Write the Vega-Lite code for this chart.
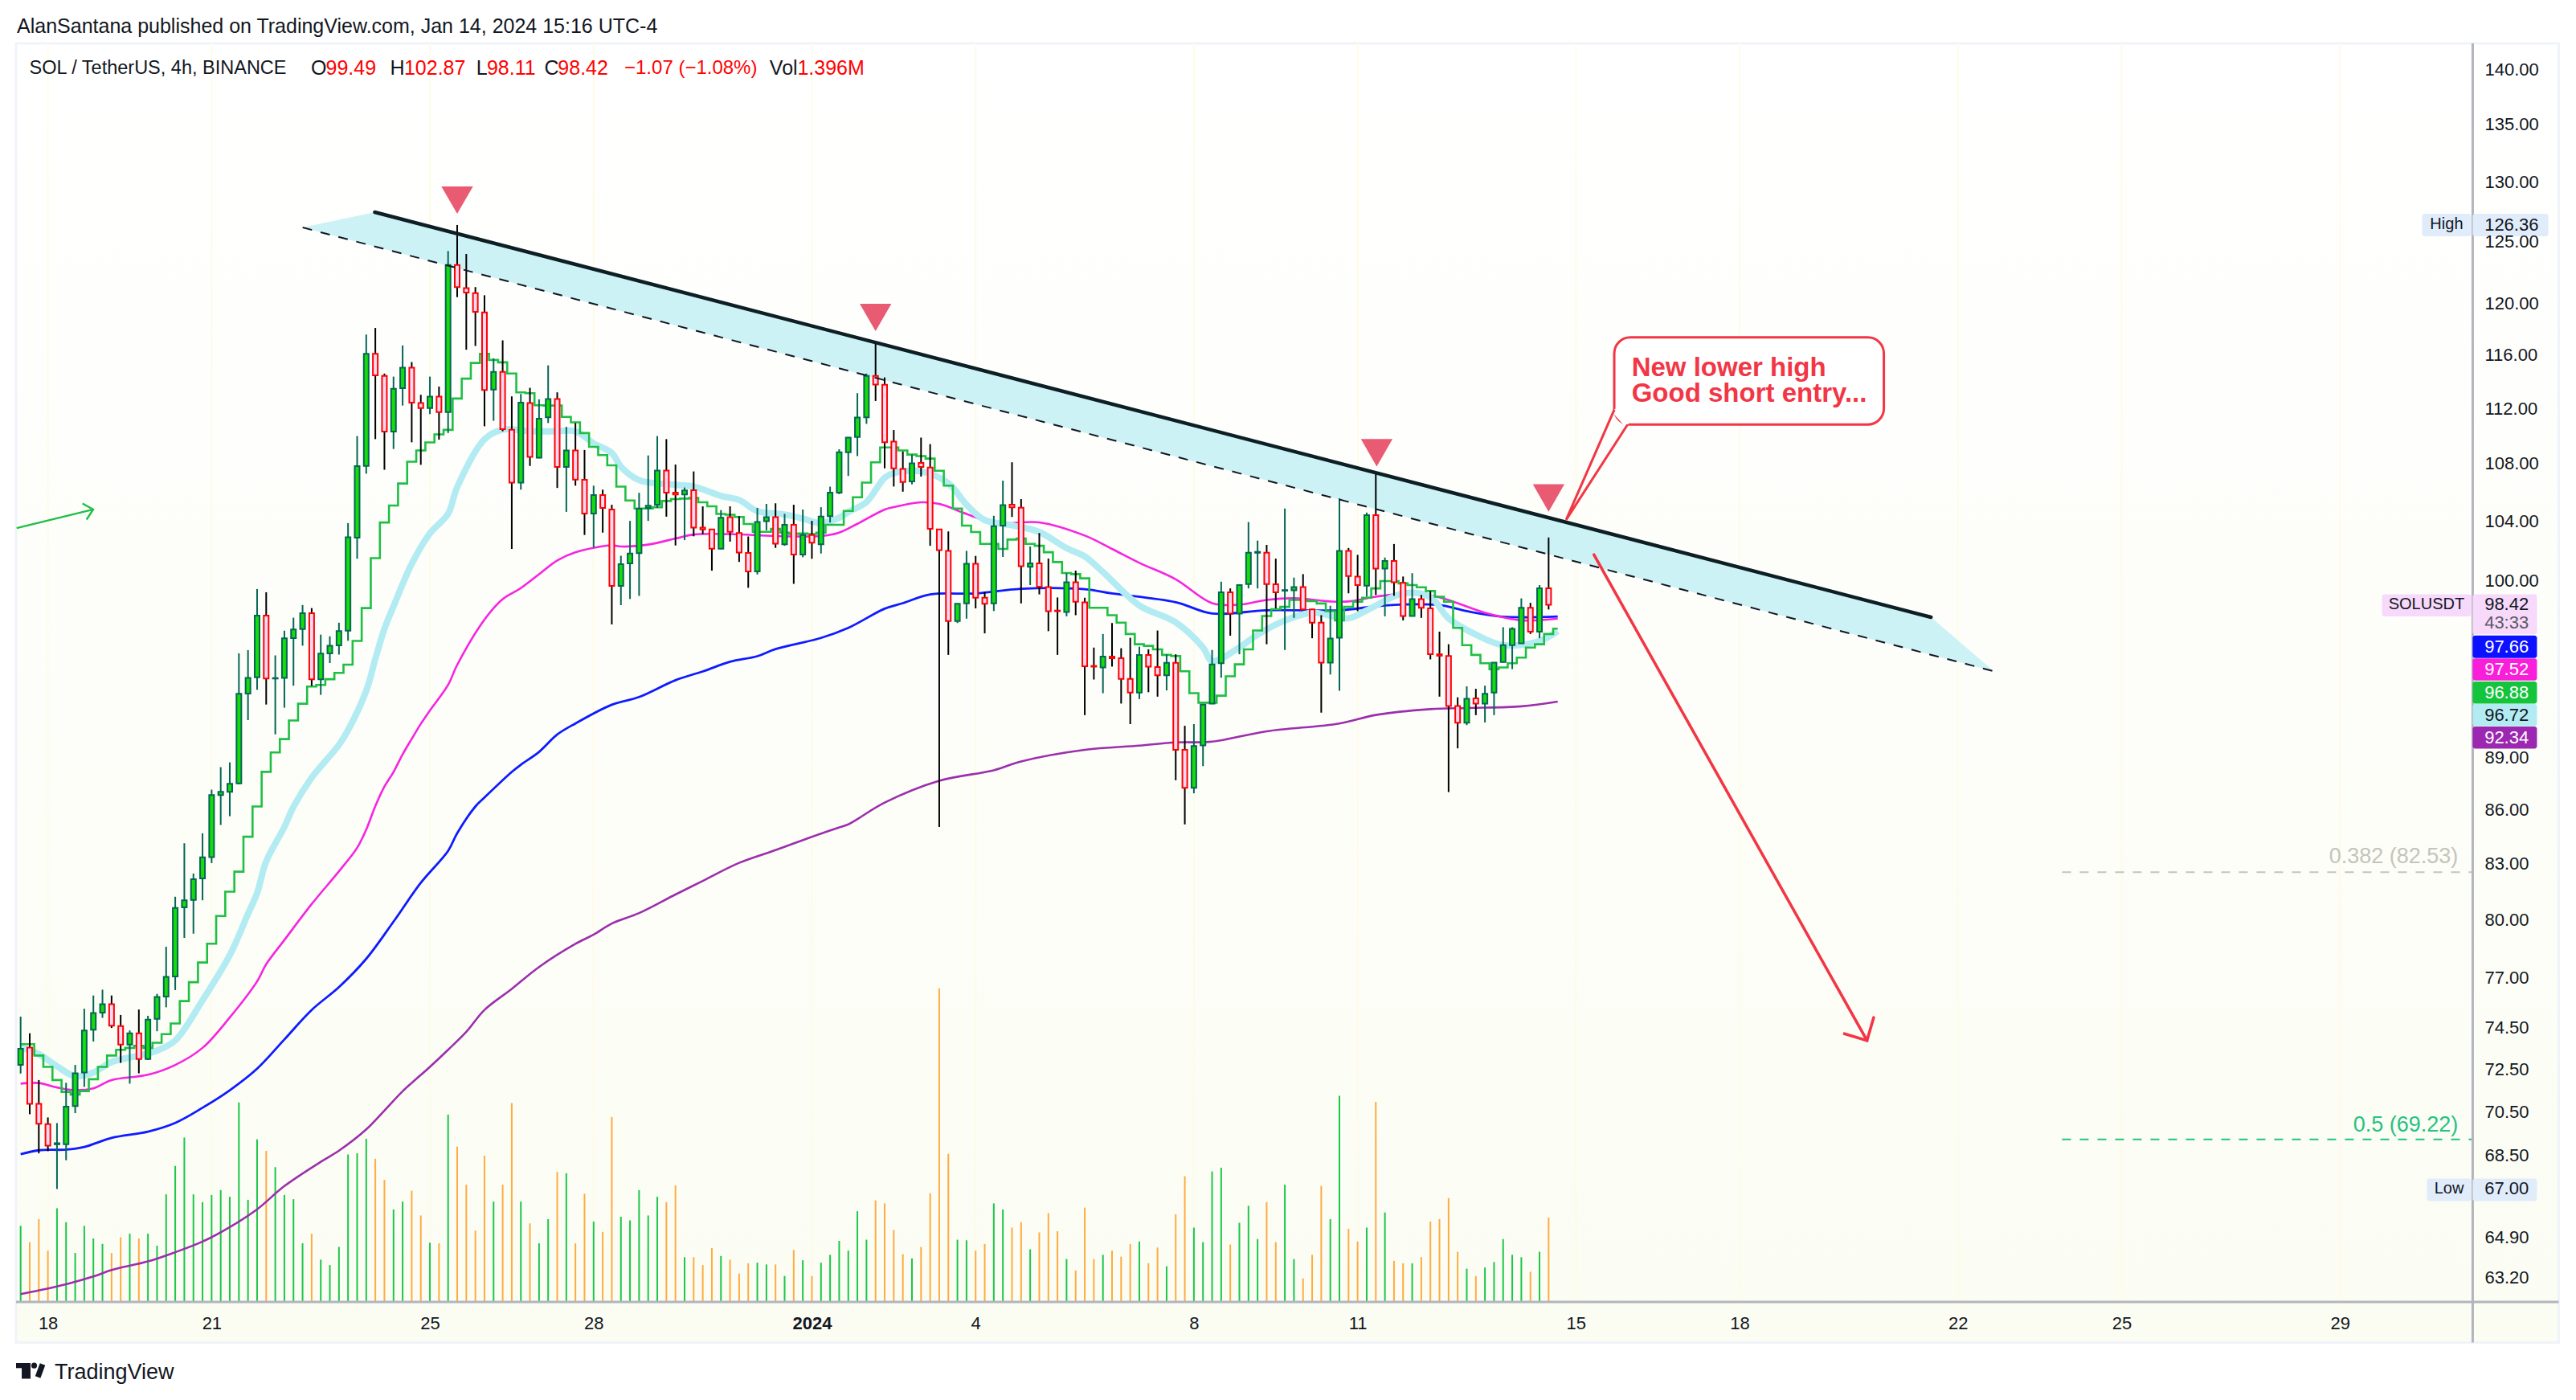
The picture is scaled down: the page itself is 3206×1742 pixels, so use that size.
{"$schema":"https://vega.github.io/schema/vega-lite/v6.json","width":3058,"height":1566,"autosize":"none","padding":{"left":20,"top":54,"right":128,"bottom":122},"background":"#ffffff","config":{"font":"Liberation Sans","view":{"stroke":null}},
"datasets":{
"candles":[
{"t":"2023-12-17T12:00Z","o":72.70,"h":75.05,"l":72.29,"c":73.48,"v":1.26},
{"t":"2023-12-17T16:00Z","o":73.53,"h":74.23,"l":70.38,"c":70.86,"v":0.99},
{"t":"2023-12-17T20:00Z","o":70.86,"h":71.98,"l":68.59,"c":69.94,"v":1.37},
{"t":"2023-12-18T00:00Z","o":69.92,"h":70.23,"l":68.69,"c":68.94,"v":0.85},
{"t":"2023-12-18T04:00Z","o":69.00,"h":69.97,"l":67.00,"c":69.05,"v":1.55},
{"t":"2023-12-18T08:00Z","o":69.00,"h":71.85,"l":68.28,"c":70.73,"v":1.32},
{"t":"2023-12-18T12:00Z","o":70.76,"h":72.70,"l":70.43,"c":72.30,"v":0.81},
{"t":"2023-12-18T16:00Z","o":72.34,"h":75.44,"l":71.66,"c":74.37,"v":1.26},
{"t":"2023-12-18T20:00Z","o":74.41,"h":76.10,"l":73.83,"c":75.23,"v":1.05},
{"t":"2023-12-19T00:00Z","o":75.25,"h":76.39,"l":74.99,"c":75.67,"v":0.96},
{"t":"2023-12-19T04:00Z","o":75.67,"h":76.10,"l":74.49,"c":74.60,"v":0.81},
{"t":"2023-12-19T08:00Z","o":74.58,"h":75.13,"l":72.80,"c":73.68,"v":1.07},
{"t":"2023-12-19T12:00Z","o":73.68,"h":74.37,"l":71.81,"c":74.23,"v":1.13},
{"t":"2023-12-19T16:00Z","o":74.23,"h":75.40,"l":72.30,"c":72.98,"v":1.05},
{"t":"2023-12-19T20:00Z","o":72.98,"h":75.09,"l":72.94,"c":74.90,"v":1.13},
{"t":"2023-12-20T00:00Z","o":74.94,"h":76.18,"l":74.33,"c":76.03,"v":0.93},
{"t":"2023-12-20T04:00Z","o":76.05,"h":78.58,"l":75.51,"c":77.04,"v":1.78},
{"t":"2023-12-20T08:00Z","o":77.06,"h":81.21,"l":76.37,"c":80.61,"v":2.25},
{"t":"2023-12-20T12:00Z","o":80.65,"h":84.12,"l":79.04,"c":81.02,"v":2.72},
{"t":"2023-12-20T16:00Z","o":81.04,"h":82.46,"l":79.26,"c":82.15,"v":1.78},
{"t":"2023-12-20T20:00Z","o":82.19,"h":84.67,"l":81.02,"c":83.34,"v":1.65},
{"t":"2023-12-21T00:00Z","o":83.36,"h":87.14,"l":83.03,"c":86.83,"v":1.77},
{"t":"2023-12-21T04:00Z","o":86.83,"h":88.44,"l":85.14,"c":87.01,"v":1.85},
{"t":"2023-12-21T08:00Z","o":87.01,"h":88.72,"l":85.63,"c":87.48,"v":1.74},
{"t":"2023-12-21T12:00Z","o":87.50,"h":95.32,"l":87.45,"c":92.81,"v":3.30},
{"t":"2023-12-21T16:00Z","o":92.83,"h":95.52,"l":91.22,"c":93.79,"v":1.69},
{"t":"2023-12-21T20:00Z","o":93.83,"h":99.44,"l":93.06,"c":97.71,"v":2.69},
{"t":"2023-12-22T00:00Z","o":97.71,"h":99.23,"l":92.16,"c":93.75,"v":2.50},
{"t":"2023-12-22T04:00Z","o":93.75,"h":95.19,"l":90.37,"c":93.78,"v":2.23},
{"t":"2023-12-22T08:00Z","o":93.79,"h":96.75,"l":91.97,"c":96.26,"v":1.77},
{"t":"2023-12-22T12:00Z","o":96.28,"h":97.58,"l":93.31,"c":96.83,"v":1.70},
{"t":"2023-12-22T16:00Z","o":96.85,"h":98.40,"l":95.80,"c":97.87,"v":0.97},
{"t":"2023-12-22T20:00Z","o":97.87,"h":98.20,"l":93.30,"c":93.70,"v":1.13},
{"t":"2023-12-23T00:00Z","o":93.70,"h":96.50,"l":92.75,"c":95.30,"v":0.70},
{"t":"2023-12-23T04:00Z","o":95.32,"h":96.39,"l":94.71,"c":95.80,"v":0.61},
{"t":"2023-12-23T08:00Z","o":95.82,"h":97.26,"l":95.24,"c":96.73,"v":0.91},
{"t":"2023-12-23T12:00Z","o":96.75,"h":103.85,"l":96.11,"c":102.89,"v":2.44},
{"t":"2023-12-23T16:00Z","o":102.86,"h":109.97,"l":101.44,"c":107.81,"v":2.46},
{"t":"2023-12-23T20:00Z","o":107.83,"h":117.57,"l":107.28,"c":116.08,"v":2.70},
{"t":"2023-12-24T00:00Z","o":116.08,"h":118.08,"l":109.75,"c":114.45,"v":2.37},
{"t":"2023-12-24T04:00Z","o":114.41,"h":114.59,"l":107.56,"c":110.30,"v":2.02},
{"t":"2023-12-24T08:00Z","o":110.30,"h":114.36,"l":109.04,"c":113.45,"v":1.53},
{"t":"2023-12-24T12:00Z","o":113.49,"h":116.73,"l":112.20,"c":115.04,"v":1.66},
{"t":"2023-12-24T16:00Z","o":115.04,"h":115.46,"l":109.52,"c":112.42,"v":1.84},
{"t":"2023-12-24T20:00Z","o":112.38,"h":113.00,"l":107.91,"c":112.01,"v":1.43},
{"t":"2023-12-25T00:00Z","o":112.01,"h":114.36,"l":111.57,"c":112.86,"v":0.98},
{"t":"2023-12-25T04:00Z","o":112.86,"h":113.61,"l":109.71,"c":111.72,"v":0.97},
{"t":"2023-12-25T08:00Z","o":111.72,"h":124.21,"l":110.19,"c":123.07,"v":3.10},
{"t":"2023-12-25T12:00Z","o":123.07,"h":126.36,"l":120.50,"c":121.30,"v":2.57},
{"t":"2023-12-25T16:00Z","o":121.22,"h":123.97,"l":116.40,"c":120.87,"v":1.94},
{"t":"2023-12-25T20:00Z","o":120.81,"h":121.30,"l":116.69,"c":119.34,"v":1.18},
{"t":"2023-12-26T00:00Z","o":119.29,"h":120.65,"l":110.68,"c":113.36,"v":2.42},
{"t":"2023-12-26T04:00Z","o":113.38,"h":115.74,"l":111.08,"c":114.71,"v":1.66},
{"t":"2023-12-26T08:00Z","o":114.71,"h":117.12,"l":110.32,"c":110.47,"v":1.94},
{"t":"2023-12-26T12:00Z","o":110.43,"h":112.88,"l":102.10,"c":106.65,"v":3.29},
{"t":"2023-12-26T16:00Z","o":106.65,"h":113.06,"l":106.16,"c":112.42,"v":1.66},
{"t":"2023-12-26T20:00Z","o":112.38,"h":113.52,"l":107.83,"c":108.48,"v":1.30},
{"t":"2023-12-27T00:00Z","o":108.42,"h":112.66,"l":108.37,"c":111.23,"v":0.97},
{"t":"2023-12-27T04:00Z","o":111.34,"h":115.21,"l":110.92,"c":112.68,"v":1.37},
{"t":"2023-12-27T08:00Z","o":112.68,"h":113.18,"l":106.28,"c":107.76,"v":2.15},
{"t":"2023-12-27T12:00Z","o":107.76,"h":110.64,"l":104.62,"c":108.93,"v":2.13},
{"t":"2023-12-27T16:00Z","o":108.93,"h":110.92,"l":106.44,"c":106.87,"v":0.97},
{"t":"2023-12-27T20:00Z","o":106.85,"h":108.97,"l":103.04,"c":104.51,"v":1.79},
{"t":"2023-12-28T00:00Z","o":104.51,"h":106.44,"l":102.20,"c":105.78,"v":1.33},
{"t":"2023-12-28T04:00Z","o":105.78,"h":106.16,"l":103.20,"c":104.89,"v":1.16},
{"t":"2023-12-28T08:00Z","o":104.78,"h":105.11,"l":97.15,"c":99.64,"v":3.06},
{"t":"2023-12-28T12:00Z","o":99.64,"h":101.64,"l":98.39,"c":101.08,"v":1.41},
{"t":"2023-12-28T16:00Z","o":101.13,"h":104.00,"l":98.79,"c":101.79,"v":1.35},
{"t":"2023-12-28T20:00Z","o":101.81,"h":105.94,"l":98.99,"c":104.83,"v":1.85},
{"t":"2023-12-29T00:00Z","o":104.89,"h":108.58,"l":104.00,"c":105.05,"v":1.43},
{"t":"2023-12-29T04:00Z","o":105.11,"h":109.97,"l":104.89,"c":107.51,"v":1.74},
{"t":"2023-12-29T08:00Z","o":107.51,"h":109.75,"l":104.29,"c":105.95,"v":1.65},
{"t":"2023-12-29T12:00Z","o":105.95,"h":107.93,"l":102.33,"c":105.83,"v":1.93},
{"t":"2023-12-29T16:00Z","o":105.83,"h":106.31,"l":102.69,"c":106.11,"v":0.74},
{"t":"2023-12-29T20:00Z","o":106.12,"h":107.44,"l":102.95,"c":103.54,"v":0.74},
{"t":"2023-12-30T00:00Z","o":103.54,"h":105.00,"l":103.10,"c":103.42,"v":0.61},
{"t":"2023-12-30T04:00Z","o":103.42,"h":103.46,"l":100.65,"c":102.12,"v":0.89},
{"t":"2023-12-30T08:00Z","o":102.12,"h":104.74,"l":102.10,"c":104.21,"v":0.76},
{"t":"2023-12-30T12:00Z","o":104.26,"h":105.00,"l":102.59,"c":103.25,"v":0.70},
{"t":"2023-12-30T16:00Z","o":103.17,"h":104.32,"l":101.23,"c":101.86,"v":0.47},
{"t":"2023-12-30T20:00Z","o":101.83,"h":102.94,"l":99.52,"c":100.60,"v":0.64},
{"t":"2023-12-31T00:00Z","o":100.60,"h":104.89,"l":100.40,"c":103.93,"v":0.65},
{"t":"2023-12-31T04:00Z","o":103.98,"h":105.17,"l":103.35,"c":104.26,"v":0.62},
{"t":"2023-12-31T08:00Z","o":104.26,"h":105.21,"l":102.17,"c":102.45,"v":0.62},
{"t":"2023-12-31T12:00Z","o":102.41,"h":104.48,"l":102.31,"c":103.73,"v":0.43},
{"t":"2023-12-31T16:00Z","o":103.73,"h":105.11,"l":99.78,"c":101.72,"v":0.86},
{"t":"2023-12-31T20:00Z","o":101.72,"h":104.78,"l":101.54,"c":103.04,"v":0.69},
{"t":"2024-01-01T00:00Z","o":103.04,"h":104.00,"l":101.44,"c":102.52,"v":0.43},
{"t":"2024-01-01T04:00Z","o":102.41,"h":104.94,"l":101.79,"c":104.30,"v":0.65},
{"t":"2024-01-01T08:00Z","o":104.32,"h":106.37,"l":103.89,"c":105.95,"v":0.78},
{"t":"2024-01-01T12:00Z","o":105.95,"h":109.02,"l":105.85,"c":108.80,"v":1.01},
{"t":"2024-01-01T16:00Z","o":108.80,"h":109.90,"l":107.12,"c":109.86,"v":0.85},
{"t":"2024-01-01T20:00Z","o":109.90,"h":113.12,"l":108.53,"c":111.32,"v":1.50},
{"t":"2024-01-02T00:00Z","o":111.34,"h":114.59,"l":110.86,"c":114.41,"v":1.03},
{"t":"2024-01-02T04:00Z","o":114.41,"h":116.86,"l":112.54,"c":113.77,"v":1.68},
{"t":"2024-01-02T08:00Z","o":113.75,"h":114.30,"l":107.66,"c":109.52,"v":1.63},
{"t":"2024-01-02T12:00Z","o":109.57,"h":110.41,"l":106.38,"c":107.66,"v":1.19},
{"t":"2024-01-02T16:00Z","o":107.61,"h":108.86,"l":106.02,"c":106.70,"v":0.79},
{"t":"2024-01-02T20:00Z","o":106.74,"h":108.64,"l":106.53,"c":108.02,"v":0.72},
{"t":"2024-01-03T00:00Z","o":108.04,"h":109.86,"l":107.08,"c":107.76,"v":0.91},
{"t":"2024-01-03T04:00Z","o":107.72,"h":109.39,"l":102.31,"c":103.46,"v":1.80},
{"t":"2024-01-03T08:00Z","o":103.42,"h":103.45,"l":85.02,"c":102.02,"v":5.19},
{"t":"2024-01-03T12:00Z","o":101.97,"h":103.28,"l":95.22,"c":97.37,"v":2.45},
{"t":"2024-01-03T16:00Z","o":97.37,"h":98.50,"l":97.24,"c":98.48,"v":1.03},
{"t":"2024-01-03T20:00Z","o":98.50,"h":101.97,"l":97.52,"c":101.10,"v":1.02},
{"t":"2024-01-04T00:00Z","o":101.10,"h":101.63,"l":98.18,"c":98.87,"v":0.85},
{"t":"2024-01-04T04:00Z","o":98.87,"h":99.26,"l":96.58,"c":98.48,"v":0.96},
{"t":"2024-01-04T08:00Z","o":98.50,"h":104.35,"l":98.01,"c":103.63,"v":1.63},
{"t":"2024-01-04T12:00Z","o":103.68,"h":106.79,"l":101.56,"c":105.09,"v":1.53},
{"t":"2024-01-04T16:00Z","o":105.11,"h":108.09,"l":104.27,"c":104.93,"v":1.23},
{"t":"2024-01-04T20:00Z","o":104.91,"h":105.50,"l":98.50,"c":100.95,"v":1.32},
{"t":"2024-01-05T00:00Z","o":100.90,"h":102.26,"l":99.70,"c":101.13,"v":0.87},
{"t":"2024-01-05T04:00Z","o":101.13,"h":103.17,"l":99.09,"c":99.59,"v":1.15},
{"t":"2024-01-05T08:00Z","o":99.57,"h":101.45,"l":96.72,"c":98.00,"v":1.47},
{"t":"2024-01-05T12:00Z","o":98.04,"h":98.89,"l":95.22,"c":98.00,"v":1.17},
{"t":"2024-01-05T16:00Z","o":97.95,"h":100.48,"l":97.67,"c":99.88,"v":0.71},
{"t":"2024-01-05T20:00Z","o":99.88,"h":100.65,"l":97.74,"c":98.61,"v":0.52},
{"t":"2024-01-06T00:00Z","o":98.57,"h":98.87,"l":91.52,"c":94.51,"v":1.56},
{"t":"2024-01-06T04:00Z","o":94.53,"h":95.68,"l":93.69,"c":94.49,"v":0.71},
{"t":"2024-01-06T08:00Z","o":94.44,"h":96.54,"l":92.85,"c":95.11,"v":0.78},
{"t":"2024-01-06T12:00Z","o":95.11,"h":97.24,"l":94.49,"c":95.01,"v":0.85},
{"t":"2024-01-06T16:00Z","o":95.01,"h":95.64,"l":92.22,"c":93.73,"v":0.75},
{"t":"2024-01-06T20:00Z","o":93.73,"h":96.30,"l":90.98,"c":92.89,"v":0.96},
{"t":"2024-01-07T00:00Z","o":92.89,"h":95.74,"l":92.49,"c":95.22,"v":1.00},
{"t":"2024-01-07T04:00Z","o":95.22,"h":95.57,"l":92.91,"c":94.49,"v":0.64},
{"t":"2024-01-07T08:00Z","o":94.46,"h":96.76,"l":92.64,"c":93.95,"v":0.90},
{"t":"2024-01-07T12:00Z","o":93.95,"h":95.26,"l":93.02,"c":94.72,"v":0.59},
{"t":"2024-01-07T16:00Z","o":94.72,"h":95.26,"l":87.68,"c":89.45,"v":1.45},
{"t":"2024-01-07T20:00Z","o":89.45,"h":90.88,"l":85.17,"c":87.25,"v":2.08},
{"t":"2024-01-08T00:00Z","o":87.25,"h":90.98,"l":86.93,"c":89.68,"v":1.23},
{"t":"2024-01-08T04:00Z","o":89.72,"h":92.19,"l":88.50,"c":92.15,"v":0.99},
{"t":"2024-01-08T08:00Z","o":92.22,"h":95.53,"l":92.18,"c":94.62,"v":2.16},
{"t":"2024-01-08T12:00Z","o":94.70,"h":99.92,"l":93.80,"c":99.22,"v":2.22},
{"t":"2024-01-08T16:00Z","o":99.22,"h":99.48,"l":96.43,"c":97.85,"v":0.95},
{"t":"2024-01-08T20:00Z","o":97.85,"h":99.72,"l":95.26,"c":99.70,"v":1.31},
{"t":"2024-01-09T00:00Z","o":99.77,"h":103.92,"l":99.48,"c":101.84,"v":1.59},
{"t":"2024-01-09T04:00Z","o":101.84,"h":102.66,"l":99.48,"c":101.90,"v":1.04},
{"t":"2024-01-09T08:00Z","o":101.84,"h":102.37,"l":95.89,"c":99.77,"v":1.65},
{"t":"2024-01-09T12:00Z","o":99.75,"h":101.45,"l":98.18,"c":99.22,"v":0.99},
{"t":"2024-01-09T16:00Z","o":99.33,"h":104.85,"l":95.53,"c":99.37,"v":1.94},
{"t":"2024-01-09T20:00Z","o":99.35,"h":100.19,"l":97.57,"c":99.57,"v":0.71},
{"t":"2024-01-10T00:00Z","o":99.57,"h":100.42,"l":98.07,"c":98.11,"v":0.39},
{"t":"2024-01-10T04:00Z","o":98.11,"h":98.15,"l":96.27,"c":97.26,"v":0.78},
{"t":"2024-01-10T08:00Z","o":97.26,"h":97.74,"l":91.67,"c":94.74,"v":1.92},
{"t":"2024-01-10T12:00Z","o":94.74,"h":98.35,"l":94.00,"c":96.25,"v":1.37},
{"t":"2024-01-10T16:00Z","o":96.30,"h":105.56,"l":93.00,"c":101.97,"v":3.41},
{"t":"2024-01-10T20:00Z","o":101.97,"h":102.16,"l":99.16,"c":100.30,"v":1.21},
{"t":"2024-01-11T00:00Z","o":100.26,"h":101.70,"l":98.00,"c":99.70,"v":1.00},
{"t":"2024-01-11T04:00Z","o":99.66,"h":104.57,"l":98.94,"c":104.39,"v":1.23},
{"t":"2024-01-11T08:00Z","o":104.39,"h":107.31,"l":99.05,"c":100.78,"v":3.31},
{"t":"2024-01-11T12:00Z","o":100.78,"h":101.52,"l":97.67,"c":101.29,"v":1.48},
{"t":"2024-01-11T16:00Z","o":101.29,"h":102.43,"l":99.00,"c":99.88,"v":0.68},
{"t":"2024-01-11T20:00Z","o":99.85,"h":100.26,"l":97.41,"c":97.69,"v":0.64},
{"t":"2024-01-12T00:00Z","o":97.69,"h":100.48,"l":97.67,"c":98.78,"v":0.64},
{"t":"2024-01-12T04:00Z","o":98.78,"h":99.05,"l":97.57,"c":98.22,"v":0.74},
{"t":"2024-01-12T08:00Z","o":98.18,"h":99.31,"l":94.94,"c":95.26,"v":1.33},
{"t":"2024-01-12T12:00Z","o":95.26,"h":96.69,"l":92.64,"c":95.17,"v":1.37},
{"t":"2024-01-12T16:00Z","o":95.15,"h":95.89,"l":87.00,"c":92.07,"v":1.72},
{"t":"2024-01-12T20:00Z","o":92.07,"h":92.60,"l":89.54,"c":91.06,"v":0.83},
{"t":"2024-01-13T00:00Z","o":91.06,"h":93.27,"l":90.92,"c":92.51,"v":0.55},
{"t":"2024-01-13T04:00Z","o":92.53,"h":93.12,"l":91.52,"c":92.22,"v":0.43},
{"t":"2024-01-13T08:00Z","o":92.22,"h":93.31,"l":91.08,"c":92.81,"v":0.57},
{"t":"2024-01-13T12:00Z","o":92.89,"h":94.75,"l":91.52,"c":94.74,"v":0.66},
{"t":"2024-01-13T16:00Z","o":94.78,"h":96.97,"l":94.74,"c":95.83,"v":1.04},
{"t":"2024-01-13T20:00Z","o":95.83,"h":96.97,"l":94.33,"c":96.87,"v":0.78},
{"t":"2024-01-14T00:00Z","o":95.95,"h":98.83,"l":95.95,"c":98.22,"v":0.74},
{"t":"2024-01-14T04:00Z","o":98.22,"h":98.54,"l":96.54,"c":96.69,"v":0.50},
{"t":"2024-01-14T08:00Z","o":96.69,"h":99.70,"l":96.27,"c":99.49,"v":0.83},
{"t":"2024-01-14T12:00Z","o":99.49,"h":102.87,"l":98.11,"c":98.42,"v":1.396}
],
"ema_step":[
{"t":"2023-12-17T12:00Z","p":73.7},{"t":"2023-12-17T16:00Z","p":73.7},{"t":"2023-12-17T20:00Z","p":73.15},{"t":"2023-12-18T00:00Z","p":72.61},{"t":"2023-12-18T04:00Z","p":71.98},{"t":"2023-12-18T08:00Z","p":71.42},{"t":"2023-12-18T12:00Z","p":71.3},{"t":"2023-12-18T16:00Z","p":71.46},{"t":"2023-12-18T20:00Z","p":72.02},{"t":"2023-12-19T00:00Z","p":72.61},{"t":"2023-12-19T04:00Z","p":73.15},{"t":"2023-12-19T08:00Z","p":73.43},{"t":"2023-12-19T12:00Z","p":73.52},{"t":"2023-12-19T16:00Z","p":73.62},{"t":"2023-12-19T20:00Z","p":73.52},{"t":"2023-12-20T00:00Z","p":73.77},{"t":"2023-12-20T04:00Z","p":74.19},{"t":"2023-12-20T08:00Z","p":74.71},{"t":"2023-12-20T12:00Z","p":75.82},{"t":"2023-12-20T16:00Z","p":76.77},{"t":"2023-12-20T20:00Z","p":77.77},{"t":"2023-12-21T00:00Z","p":78.74},{"t":"2023-12-21T04:00Z","p":80.19},{"t":"2023-12-21T08:00Z","p":81.48},{"t":"2023-12-21T12:00Z","p":82.56},{"t":"2023-12-21T16:00Z","p":84.48},{"t":"2023-12-21T20:00Z","p":86.18},{"t":"2023-12-22T00:00Z","p":88.17},{"t":"2023-12-22T04:00Z","p":89.3},{"t":"2023-12-22T08:00Z","p":90.09},{"t":"2023-12-22T12:00Z","p":91.2},{"t":"2023-12-22T16:00Z","p":92.21},{"t":"2023-12-22T20:00Z","p":93.26},{"t":"2023-12-23T00:00Z","p":93.36},{"t":"2023-12-23T04:00Z","p":93.71},{"t":"2023-12-23T08:00Z","p":94.1},{"t":"2023-12-23T12:00Z","p":94.61},{"t":"2023-12-23T16:00Z","p":96.1},{"t":"2023-12-23T20:00Z","p":98.2},{"t":"2023-12-24T00:00Z","p":101.48},{"t":"2023-12-24T04:00Z","p":103.89},{"t":"2023-12-24T08:00Z","p":105.06},{"t":"2023-12-24T12:00Z","p":106.59},{"t":"2023-12-24T16:00Z","p":108.13},{"t":"2023-12-24T20:00Z","p":108.93},{"t":"2023-12-25T00:00Z","p":109.51},{"t":"2023-12-25T04:00Z","p":110.09},{"t":"2023-12-25T08:00Z","p":110.42},{"t":"2023-12-25T12:00Z","p":112.72},{"t":"2023-12-25T16:00Z","p":114.21},{"t":"2023-12-25T20:00Z","p":115.39},{"t":"2023-12-26T00:00Z","p":116.08},{"t":"2023-12-26T04:00Z","p":115.62},{"t":"2023-12-26T08:00Z","p":115.44},{"t":"2023-12-26T12:00Z","p":114.59},{"t":"2023-12-26T16:00Z","p":113.18},{"t":"2023-12-26T20:00Z","p":113.12},{"t":"2023-12-27T00:00Z","p":112.22},{"t":"2023-12-27T04:00Z","p":112.2},{"t":"2023-12-27T08:00Z","p":112.2},{"t":"2023-12-27T12:00Z","p":111.37},{"t":"2023-12-27T16:00Z","p":110.97},{"t":"2023-12-27T20:00Z","p":110.19},{"t":"2023-12-28T00:00Z","p":109.19},{"t":"2023-12-28T04:00Z","p":108.6},{"t":"2023-12-28T08:00Z","p":107.87},{"t":"2023-12-28T12:00Z","p":106.37},{"t":"2023-12-28T16:00Z","p":105.41},{"t":"2023-12-28T20:00Z","p":104.85},{"t":"2023-12-29T00:00Z","p":104.85},{"t":"2023-12-29T04:00Z","p":104.94},{"t":"2023-12-29T08:00Z","p":105.37},{"t":"2023-12-29T12:00Z","p":105.5},{"t":"2023-12-29T16:00Z","p":105.54},{"t":"2023-12-29T20:00Z","p":105.58},{"t":"2023-12-30T00:00Z","p":105.28},{"t":"2023-12-30T04:00Z","p":105.0},{"t":"2023-12-30T08:00Z","p":104.48},{"t":"2023-12-30T12:00Z","p":104.42},{"t":"2023-12-30T16:00Z","p":104.27},{"t":"2023-12-30T20:00Z","p":103.79},{"t":"2023-12-31T00:00Z","p":103.25},{"t":"2023-12-31T04:00Z","p":103.25},{"t":"2023-12-31T08:00Z","p":103.45},{"t":"2023-12-31T12:00Z","p":103.2},{"t":"2023-12-31T16:00Z","p":103.1},{"t":"2023-12-31T20:00Z","p":103.14},{"t":"2024-01-01T00:00Z","p":103.1},{"t":"2024-01-01T04:00Z","p":103.2},{"t":"2024-01-01T08:00Z","p":103.73},{"t":"2024-01-01T12:00Z","p":103.73},{"t":"2024-01-01T16:00Z","p":104.68},{"t":"2024-01-01T20:00Z","p":105.63},{"t":"2024-01-02T00:00Z","p":106.65},{"t":"2024-01-02T04:00Z","p":108.09},{"t":"2024-01-02T08:00Z","p":109.15},{"t":"2024-01-02T12:00Z","p":109.15},{"t":"2024-01-02T16:00Z","p":108.93},{"t":"2024-01-02T20:00Z","p":108.64},{"t":"2024-01-03T00:00Z","p":108.53},{"t":"2024-01-03T04:00Z","p":108.35},{"t":"2024-01-03T08:00Z","p":107.49},{"t":"2024-01-03T12:00Z","p":106.44},{"t":"2024-01-03T16:00Z","p":104.85},{"t":"2024-01-03T20:00Z","p":103.68},{"t":"2024-01-04T00:00Z","p":103.24},{"t":"2024-01-04T04:00Z","p":102.44},{"t":"2024-01-04T08:00Z","p":102.44},{"t":"2024-01-04T12:00Z","p":102.1},{"t":"2024-01-04T16:00Z","p":102.73},{"t":"2024-01-04T20:00Z","p":102.8},{"t":"2024-01-05T00:00Z","p":102.44},{"t":"2024-01-05T04:00Z","p":102.31},{"t":"2024-01-05T08:00Z","p":101.88},{"t":"2024-01-05T12:00Z","p":101.22},{"t":"2024-01-05T16:00Z","p":100.49},{"t":"2024-01-05T20:00Z","p":100.42},{"t":"2024-01-06T00:00Z","p":100.14},{"t":"2024-01-06T04:00Z","p":98.22},{"t":"2024-01-06T08:00Z","p":98.22},{"t":"2024-01-06T12:00Z","p":97.74},{"t":"2024-01-06T16:00Z","p":97.26},{"t":"2024-01-06T20:00Z","p":96.54},{"t":"2024-01-07T00:00Z","p":95.89},{"t":"2024-01-07T04:00Z","p":95.79},{"t":"2024-01-07T08:00Z","p":95.57},{"t":"2024-01-07T12:00Z","p":95.22},{"t":"2024-01-07T16:00Z","p":95.15},{"t":"2024-01-07T20:00Z","p":94.2},{"t":"2024-01-08T00:00Z","p":92.85},{"t":"2024-01-08T04:00Z","p":92.27},{"t":"2024-01-08T08:00Z","p":92.27},{"t":"2024-01-08T12:00Z","p":92.7},{"t":"2024-01-08T16:00Z","p":93.89},{"t":"2024-01-08T20:00Z","p":94.63},{"t":"2024-01-09T00:00Z","p":95.57},{"t":"2024-01-09T04:00Z","p":96.76},{"t":"2024-01-09T08:00Z","p":97.69},{"t":"2024-01-09T12:00Z","p":98.13},{"t":"2024-01-09T16:00Z","p":98.28},{"t":"2024-01-09T20:00Z","p":98.73},{"t":"2024-01-10T00:00Z","p":98.73},{"t":"2024-01-10T04:00Z","p":98.65},{"t":"2024-01-10T08:00Z","p":98.5},{"t":"2024-01-10T12:00Z","p":98.0},{"t":"2024-01-10T16:00Z","p":97.41},{"t":"2024-01-10T20:00Z","p":98.28},{"t":"2024-01-11T00:00Z","p":98.61},{"t":"2024-01-11T04:00Z","p":98.87},{"t":"2024-01-11T08:00Z","p":99.48},{"t":"2024-01-11T12:00Z","p":99.96},{"t":"2024-01-11T16:00Z","p":99.96},{"t":"2024-01-11T20:00Z","p":99.81},{"t":"2024-01-12T00:00Z","p":99.7},{"t":"2024-01-12T04:00Z","p":99.55},{"t":"2024-01-12T08:00Z","p":99.31},{"t":"2024-01-12T12:00Z","p":98.94},{"t":"2024-01-12T16:00Z","p":98.61},{"t":"2024-01-12T20:00Z","p":96.93},{"t":"2024-01-13T00:00Z","p":95.83},{"t":"2024-01-13T04:00Z","p":95.22},{"t":"2024-01-13T08:00Z","p":94.7},{"t":"2024-01-13T12:00Z","p":94.33},{"t":"2024-01-13T16:00Z","p":94.44},{"t":"2024-01-13T20:00Z","p":94.7},{"t":"2024-01-14T00:00Z","p":95.05},{"t":"2024-01-14T04:00Z","p":95.68},{"t":"2024-01-14T08:00Z","p":95.89},{"t":"2024-01-14T12:00Z","p":96.54},{"t":"2024-01-14T16:00Z","p":96.88}
],
"ema_cyan":[
{"t":"2023-12-17T12:00Z","p":73.55},{"t":"2023-12-17T20:00Z","p":73.22},{"t":"2023-12-18T04:00Z","p":72.64},{"t":"2023-12-18T12:00Z","p":72.16},{"t":"2023-12-18T20:00Z","p":72.34},{"t":"2023-12-19T04:00Z","p":72.84},{"t":"2023-12-19T16:00Z","p":73.15},{"t":"2023-12-20T00:00Z","p":73.39},{"t":"2023-12-20T08:00Z","p":73.88},{"t":"2023-12-20T20:00Z","p":75.86},{"t":"2023-12-21T08:00Z","p":78.15},{"t":"2023-12-21T16:00Z","p":80.3},{"t":"2023-12-21T20:00Z","p":81.4},{"t":"2023-12-22T00:00Z","p":83.12},{"t":"2023-12-22T08:00Z","p":85.02},{"t":"2023-12-22T12:00Z","p":86.16},{"t":"2023-12-22T20:00Z","p":87.83},{"t":"2023-12-23T08:00Z","p":89.75},{"t":"2023-12-23T12:00Z","p":90.62},{"t":"2023-12-23T20:00Z","p":93.0},{"t":"2023-12-24T00:00Z","p":94.97},{"t":"2023-12-24T04:00Z","p":96.87},{"t":"2023-12-24T08:00Z","p":98.32},{"t":"2023-12-24T16:00Z","p":101.1},{"t":"2023-12-25T00:00Z","p":103.15},{"t":"2023-12-25T08:00Z","p":104.49},{"t":"2023-12-25T12:00Z","p":106.34},{"t":"2023-12-26T00:00Z","p":109.74},{"t":"2023-12-26T08:00Z","p":110.44},{"t":"2023-12-26T20:00Z","p":110.32},{"t":"2023-12-27T08:00Z","p":110.32},{"t":"2023-12-27T16:00Z","p":110.32},{"t":"2023-12-28T00:00Z","p":109.45},{"t":"2023-12-28T08:00Z","p":108.75},{"t":"2023-12-28T12:00Z","p":107.78},{"t":"2023-12-28T20:00Z","p":106.83},{"t":"2023-12-29T12:00Z","p":106.5},{"t":"2023-12-29T20:00Z","p":106.38},{"t":"2023-12-30T08:00Z","p":105.72},{"t":"2023-12-30T16:00Z","p":105.44},{"t":"2023-12-31T00:00Z","p":104.67},{"t":"2023-12-31T12:00Z","p":104.44},{"t":"2023-12-31T20:00Z","p":104.16},{"t":"2024-01-01T04:00Z","p":103.84},{"t":"2024-01-01T12:00Z","p":104.22},{"t":"2024-01-01T16:00Z","p":104.61},{"t":"2024-01-02T00:00Z","p":105.3},{"t":"2024-01-02T08:00Z","p":107.0},{"t":"2024-01-02T12:00Z","p":107.33},{"t":"2024-01-03T00:00Z","p":107.44},{"t":"2024-01-03T12:00Z","p":106.61},{"t":"2024-01-03T20:00Z","p":105.11},{"t":"2024-01-04T04:00Z","p":104.05},{"t":"2024-01-04T16:00Z","p":103.7},{"t":"2024-01-05T04:00Z","p":103.24},{"t":"2024-01-05T16:00Z","p":102.15},{"t":"2024-01-06T00:00Z","p":101.6},{"t":"2024-01-06T08:00Z","p":100.56},{"t":"2024-01-07T00:00Z","p":98.37},{"t":"2024-01-07T16:00Z","p":97.28},{"t":"2024-01-08T04:00Z","p":95.69},{"t":"2024-01-08T08:00Z","p":94.84},{"t":"2024-01-08T20:00Z","p":95.69},{"t":"2024-01-09T04:00Z","p":96.5},{"t":"2024-01-09T16:00Z","p":97.4},{"t":"2024-01-10T04:00Z","p":97.9},{"t":"2024-01-10T20:00Z","p":97.54},{"t":"2024-01-11T04:00Z","p":98.05},{"t":"2024-01-11T20:00Z","p":99.15},{"t":"2024-01-12T08:00Z","p":98.9},{"t":"2024-01-12T16:00Z","p":97.54},{"t":"2024-01-13T04:00Z","p":96.5},{"t":"2024-01-13T16:00Z","p":95.83},{"t":"2024-01-14T08:00Z","p":96.09},{"t":"2024-01-14T16:00Z","p":96.72}
],
"ema_magenta":[
{"t":"2023-12-17T12:00Z","p":71.81},{"t":"2023-12-17T20:00Z","p":71.84},{"t":"2023-12-18T04:00Z","p":71.63},{"t":"2023-12-18T12:00Z","p":71.5},{"t":"2023-12-18T20:00Z","p":71.59},{"t":"2023-12-19T04:00Z","p":71.98},{"t":"2023-12-19T20:00Z","p":72.23},{"t":"2023-12-20T08:00Z","p":72.7},{"t":"2023-12-20T20:00Z","p":73.52},{"t":"2023-12-21T08:00Z","p":75.01},{"t":"2023-12-21T20:00Z","p":76.81},{"t":"2023-12-22T00:00Z","p":77.68},{"t":"2023-12-22T08:00Z","p":78.93},{"t":"2023-12-22T20:00Z","p":80.82},{"t":"2023-12-23T08:00Z","p":82.58},{"t":"2023-12-23T16:00Z","p":83.87},{"t":"2023-12-23T20:00Z","p":84.88},{"t":"2023-12-24T00:00Z","p":86.2},{"t":"2023-12-24T04:00Z","p":87.32},{"t":"2023-12-24T08:00Z","p":88.16},{"t":"2023-12-24T12:00Z","p":89.19},{"t":"2023-12-24T16:00Z","p":90.1},{"t":"2023-12-24T20:00Z","p":91.0},{"t":"2023-12-25T00:00Z","p":91.8},{"t":"2023-12-25T08:00Z","p":93.36},{"t":"2023-12-25T12:00Z","p":94.6},{"t":"2023-12-26T00:00Z","p":97.46},{"t":"2023-12-26T08:00Z","p":98.78},{"t":"2023-12-26T16:00Z","p":99.5},{"t":"2023-12-27T00:00Z","p":100.41},{"t":"2023-12-27T08:00Z","p":101.33},{"t":"2023-12-27T16:00Z","p":101.87},{"t":"2023-12-28T08:00Z","p":102.34},{"t":"2023-12-28T12:00Z","p":102.26},{"t":"2023-12-29T00:00Z","p":102.39},{"t":"2023-12-29T12:00Z","p":102.8},{"t":"2023-12-29T20:00Z","p":103.07},{"t":"2023-12-30T12:00Z","p":103.1},{"t":"2023-12-31T08:00Z","p":102.97},{"t":"2024-01-01T04:00Z","p":102.97},{"t":"2024-01-01T12:00Z","p":103.2},{"t":"2024-01-01T20:00Z","p":103.8},{"t":"2024-01-02T08:00Z","p":104.78},{"t":"2024-01-02T12:00Z","p":104.95},{"t":"2024-01-03T00:00Z","p":105.28},{"t":"2024-01-03T08:00Z","p":105.17},{"t":"2024-01-03T20:00Z","p":104.48},{"t":"2024-01-04T08:00Z","p":103.85},{"t":"2024-01-05T04:00Z","p":103.9},{"t":"2024-01-06T00:00Z","p":103.0},{"t":"2024-01-06T12:00Z","p":102.1},{"t":"2024-01-07T00:00Z","p":101.17},{"t":"2024-01-07T16:00Z","p":100.08},{"t":"2024-01-08T08:00Z","p":98.52},{"t":"2024-01-08T20:00Z","p":98.42},{"t":"2024-01-09T08:00Z","p":98.73},{"t":"2024-01-09T20:00Z","p":98.84},{"t":"2024-01-10T12:00Z","p":98.63},{"t":"2024-01-10T20:00Z","p":98.63},{"t":"2024-01-11T08:00Z","p":98.94},{"t":"2024-01-12T00:00Z","p":99.15},{"t":"2024-01-12T12:00Z","p":98.9},{"t":"2024-01-13T08:00Z","p":97.9},{"t":"2024-01-14T00:00Z","p":97.41},{"t":"2024-01-14T16:00Z","p":97.52}
],
"ema_blue":[
{"t":"2023-12-17T12:00Z","p":68.55},{"t":"2023-12-17T20:00Z","p":68.73},{"t":"2023-12-18T08:00Z","p":68.76},{"t":"2023-12-18T16:00Z","p":68.88},{"t":"2023-12-19T04:00Z","p":69.29},{"t":"2023-12-19T20:00Z","p":69.58},{"t":"2023-12-20T08:00Z","p":69.98},{"t":"2023-12-20T20:00Z","p":70.68},{"t":"2023-12-21T08:00Z","p":71.5},{"t":"2023-12-21T20:00Z","p":72.52},{"t":"2023-12-22T08:00Z","p":73.93},{"t":"2023-12-22T20:00Z","p":75.38},{"t":"2023-12-23T08:00Z","p":76.52},{"t":"2023-12-23T20:00Z","p":77.96},{"t":"2023-12-24T08:00Z","p":79.89},{"t":"2023-12-24T20:00Z","p":81.96},{"t":"2023-12-25T08:00Z","p":83.7},{"t":"2023-12-25T12:00Z","p":84.68},{"t":"2023-12-25T20:00Z","p":86.18},{"t":"2023-12-26T00:00Z","p":86.69},{"t":"2023-12-26T12:00Z","p":88.16},{"t":"2023-12-26T16:00Z","p":88.58},{"t":"2023-12-27T00:00Z","p":89.33},{"t":"2023-12-27T08:00Z","p":90.36},{"t":"2023-12-27T16:00Z","p":91.02},{"t":"2023-12-28T08:00Z","p":92.15},{"t":"2023-12-28T20:00Z","p":92.62},{"t":"2023-12-29T12:00Z","p":93.65},{"t":"2023-12-30T00:00Z","p":94.19},{"t":"2023-12-30T12:00Z","p":94.79},{"t":"2023-12-31T00:00Z","p":95.14},{"t":"2023-12-31T08:00Z","p":95.59},{"t":"2024-01-01T04:00Z","p":96.29},{"t":"2024-01-01T16:00Z","p":96.93},{"t":"2024-01-02T08:00Z","p":98.16},{"t":"2024-01-02T16:00Z","p":98.52},{"t":"2024-01-03T04:00Z","p":99.09},{"t":"2024-01-04T00:00Z","p":99.15},{"t":"2024-01-04T20:00Z","p":99.46},{"t":"2024-01-06T00:00Z","p":99.43},{"t":"2024-01-06T12:00Z","p":99.15},{"t":"2024-01-07T16:00Z","p":98.58},{"t":"2024-01-08T08:00Z","p":97.85},{"t":"2024-01-09T08:00Z","p":98.06},{"t":"2024-01-10T16:00Z","p":98.06},{"t":"2024-01-11T12:00Z","p":98.37},{"t":"2024-01-12T12:00Z","p":98.39},{"t":"2024-01-13T00:00Z","p":98.0},{"t":"2024-01-13T16:00Z","p":97.64},{"t":"2024-01-14T16:00Z","p":97.66}
],
"ema_purple":[
{"t":"2023-12-17T12:00Z","p":62.52},{"t":"2023-12-18T08:00Z","p":62.93},{"t":"2023-12-18T20:00Z","p":63.25},{"t":"2023-12-19T04:00Z","p":63.52},{"t":"2023-12-19T20:00Z","p":63.88},{"t":"2023-12-20T08:00Z","p":64.27},{"t":"2023-12-20T20:00Z","p":64.72},{"t":"2023-12-21T08:00Z","p":65.34},{"t":"2023-12-21T20:00Z","p":66.11},{"t":"2023-12-22T08:00Z","p":67.13},{"t":"2023-12-23T00:00Z","p":68.21},{"t":"2023-12-23T08:00Z","p":68.71},{"t":"2023-12-23T20:00Z","p":69.68},{"t":"2023-12-24T04:00Z","p":70.55},{"t":"2023-12-24T12:00Z","p":71.45},{"t":"2023-12-25T00:00Z","p":72.61},{"t":"2023-12-25T08:00Z","p":73.43},{"t":"2023-12-25T16:00Z","p":74.3},{"t":"2023-12-26T00:00Z","p":75.38},{"t":"2023-12-26T12:00Z","p":76.43},{"t":"2023-12-27T00:00Z","p":77.54},{"t":"2023-12-27T16:00Z","p":78.73},{"t":"2023-12-28T00:00Z","p":79.21},{"t":"2023-12-28T08:00Z","p":79.79},{"t":"2023-12-28T20:00Z","p":80.34},{"t":"2023-12-29T12:00Z","p":81.33},{"t":"2023-12-30T00:00Z","p":82.06},{"t":"2023-12-30T16:00Z","p":83.04},{"t":"2023-12-31T08:00Z","p":83.74},{"t":"2024-01-01T00:00Z","p":84.48},{"t":"2024-01-01T12:00Z","p":85.0},{"t":"2024-01-01T16:00Z","p":85.17},{"t":"2024-01-02T08:00Z","p":86.4},{"t":"2024-01-03T08:00Z","p":87.65},{"t":"2024-01-04T08:00Z","p":88.26},{"t":"2024-01-04T20:00Z","p":88.77},{"t":"2024-01-06T00:00Z","p":89.45},{"t":"2024-01-07T00:00Z","p":89.7},{"t":"2024-01-07T16:00Z","p":89.89},{"t":"2024-01-08T08:00Z","p":89.94},{"t":"2024-01-09T08:00Z","p":90.55},{"t":"2024-01-10T16:00Z","p":91.02},{"t":"2024-01-11T08:00Z","p":91.53},{"t":"2024-01-12T08:00Z","p":91.88},{"t":"2024-01-13T00:00Z","p":91.95},{"t":"2024-01-14T00:00Z","p":92.05},{"t":"2024-01-14T16:00Z","p":92.34}
],
"hgrid":[{"p":140},{"p":135},{"p":130},{"p":125},{"p":120},{"p":116},{"p":112},{"p":108},{"p":104},{"p":100},{"p":96},{"p":92.5},{"p":89},{"p":86},{"p":83},{"p":80},{"p":77},{"p":74.5},{"p":72.5},{"p":70.5},{"p":68.5},{"p":66.7},{"p":64.9},{"p":63.2}],
"vgrid":[{"t":"2023-12-18T00:00Z"},{"t":"2023-12-21T00:00Z"},{"t":"2023-12-25T00:00Z"},{"t":"2023-12-28T00:00Z"},{"t":"2024-01-01T00:00Z"},{"t":"2024-01-04T00:00Z"},{"t":"2024-01-08T00:00Z"},{"t":"2024-01-11T00:00Z"},{"t":"2024-01-15T00:00Z"},{"t":"2024-01-18T00:00Z"},{"t":"2024-01-22T00:00Z"},{"t":"2024-01-25T00:00Z"},{"t":"2024-01-29T00:00Z"}],
"tags":[
{"t":"2024-01-30T12:08Z","t2":"2024-01-31T09:43Z","p":127.3,"p2":125.43,"tag":"hl"},
{"t":"2024-01-31T10:24Z","t2":"2024-02-01T19:40Z","p":127.3,"p2":125.43,"tag":"hl"},
{"t":"2024-01-30T14:15Z","t2":"2024-01-31T09:43Z","p":67.46,"p2":66.47,"tag":"hl"},
{"t":"2024-01-31T10:24Z","t2":"2024-02-01T14:40Z","p":67.46,"p2":66.47,"tag":"hl"},
{"t":"2024-01-29T18:30Z","t2":"2024-01-31T09:43Z","p":99.09,"p2":97.66,"tag":"last"},
{"t":"2024-01-31T10:24Z","t2":"2024-02-01T14:40Z","p":99.09,"p2":96.52,"tag":"last"},
{"t":"2024-01-31T10:24Z","t2":"2024-02-01T14:40Z","p":96.45,"p2":95.03,"tag":"blue"},
{"t":"2024-01-31T10:24Z","t2":"2024-02-01T14:40Z","p":95.0,"p2":93.63,"tag":"magenta"},
{"t":"2024-01-31T10:24Z","t2":"2024-02-01T14:40Z","p":93.57,"p2":92.22,"tag":"green"},
{"t":"2024-01-31T10:24Z","t2":"2024-02-01T14:40Z","p":92.19,"p2":90.86,"tag":"cyan"},
{"t":"2024-01-31T10:24Z","t2":"2024-02-01T14:40Z","p":90.84,"p2":89.53,"tag":"purple"}
],
"header":[
{"t":"2023-12-22T19:40Z","p":140.08,"s":"O","k":"dark"},
{"t":"2023-12-23T02:13Z","p":140.08,"s":"99.49","k":"red"},
{"t":"2023-12-24T06:29Z","p":140.08,"s":"H","k":"dark"},
{"t":"2023-12-24T12:39Z","p":140.08,"s":"102.87","k":"red"},
{"t":"2023-12-25T20:23Z","p":140.08,"s":"L","k":"dark"},
{"t":"2023-12-26T01:03Z","p":140.08,"s":"98.11","k":"red"},
{"t":"2023-12-27T02:23Z","p":140.08,"s":"C","k":"dark"},
{"t":"2023-12-27T08:18Z","p":140.08,"s":"98.42","k":"red"},
{"t":"2023-12-31T05:24Z","p":140.08,"s":"Vol","k":"dark"},
{"t":"2023-12-31T17:38Z","p":140.08,"s":"1.396M","k":"red"}
],
"axisTags":[
{"t":"2024-01-31T15:36Z","p":126.36,"s":"126.36","k":"dark"},
{"t":"2024-01-31T15:36Z","p":98.42,"s":"98.42","k":"dark"},
{"t":"2024-01-31T15:36Z","p":97.24,"s":"43:33","k":"grey"},
{"t":"2024-01-31T15:36Z","p":95.74,"s":"97.66","k":"white"},
{"t":"2024-01-31T15:36Z","p":94.33,"s":"97.52","k":"white"},
{"t":"2024-01-31T15:36Z","p":92.89,"s":"96.88","k":"white"},
{"t":"2024-01-31T15:36Z","p":91.53,"s":"96.72","k":"dark"},
{"t":"2024-01-31T15:36Z","p":90.18,"s":"92.34","k":"white"},
{"t":"2024-01-31T15:36Z","p":67.0,"s":"67.00","k":"dark"}
],
"sideTags":[
{"t":"2024-01-30T22:55Z","p":126.4,"s":"High"},
{"t":"2024-01-30T14:05Z","p":98.42,"s":"SOLUSDT"},
{"t":"2024-01-31T00:00Z","p":67.0,"s":"Low"}
]
},
"encoding":{"x":{"field":"t","type":"temporal","title":null,"axis":null,"scale":{"type":"utc","padding":0,"domain":[{"year":2023,"month":12,"date":17,"hours":10,"utc":true},{"year":2024,"month":1,"date":31,"hours":10,"minutes":36,"utc":true}]}}},
"resolve":{"scale":{"y":"independent"},"axis":{"y":"independent","x":"independent"}},
"layer":[
{"layer":[
{"data":{"values":[{"t":"2023-12-17T10:00Z","t2":"2024-02-02T00:13Z","p":142.4,"p2":60.56}]},"mark":{"type":"rect","clip":false,"stroke":"#f0f3fa","strokeWidth":3,"fill":{"gradient":"linear","x1":0,"y1":0,"x2":0,"y2":1,"stops":[{"offset":0,"color":"#ffffff"},{"offset":1,"color":"#fbfdf3"}]}},
"encoding":{"x2":{"field":"t2"},"y":{"field":"p","type":"quantitative","title":null,"axis":null,"scale":{"type":"log","domain":[62.2,142.4],"nice":false,"zero":false}},"y2":{"field":"p2"}}},
{"data":{"name":"hgrid"},"transform":[{"calculate":"'2023-12-17T10:00Z'","as":"t"},{"calculate":"'2024-01-31T10:36Z'","as":"t2"}],"mark":{"type":"rule","stroke":"#fefbe8","strokeWidth":2},"encoding":{"x2":{"field":"t2"},"y":{"field":"p","type":"quantitative","title":null,"axis":null,"scale":{"type":"log","domain":[62.2,142.4],"nice":false,"zero":false}}}},
{"data":{"name":"vgrid"},"transform":[{"calculate":"142.4","as":"p"},{"calculate":"62.2","as":"p2"}],"mark":{"type":"rule","stroke":"#fefbe8","strokeWidth":2},"encoding":{"y":{"field":"p","type":"quantitative","title":null,"axis":null,"scale":{"type":"log","domain":[62.2,142.4],"nice":false,"zero":false}},"y2":{"field":"p2"}}}
]},
{"data":{"name":"candles"},"mark":{"type":"bar","width":2},"encoding":{"y":{"field":"v","type":"quantitative","title":null,"axis":null,"stack":null,"scale":{"domain":[0,20.82],"nice":false}},"fill":{"condition":{"test":"datum.c>=datum.o","value":"#1cc64a"},"value":"#ffab40"}}},
{"resolve":{"scale":{"fill":"independent"}},"layer":[
{"data":{"values":[{"t":"2023-12-22T16:02Z","p":126.15,"p2":126.15},{"t":"2023-12-23T23:45Z","p":127.43,"p2":124.58},{"t":"2024-01-21T12:10Z","p":97.61,"p2":95.23},{"t":"2024-01-22T15:50Z","p":94.2,"p2":94.2}]},"mark":{"type":"area","fill":"#cdf2f5","clip":false},"encoding":{"y":{"field":"p","type":"quantitative","title":null,"axis":null,"scale":{"type":"log","domain":[62.2,142.4],"nice":false,"zero":false}},"y2":{"field":"p2"}}},
{"data":{"values":[{"p":98.42}]},"transform":[{"calculate":"'2023-12-17T10:00Z'","as":"t"},{"calculate":"'2024-01-31T10:36Z'","as":"t2"}],"mark":{"type":"rule","stroke":"#f7d9fb","strokeWidth":2,"strokeDash":[2,5]},"encoding":{"x2":{"field":"t2"},"y":{"field":"p","type":"quantitative","title":null,"axis":null,"scale":{"type":"log","domain":[62.2,142.4],"nice":false,"zero":false}}}},
{"data":{"values":[{"t":"2024-01-23T21:50Z","t2":"2024-01-31T10:36Z","p":82.53}]},"mark":{"type":"rule","stroke":"#c4c4c0","strokeWidth":2,"strokeDash":[11,11]},"encoding":{"x2":{"field":"t2"},"y":{"field":"p","type":"quantitative","title":null,"axis":null,"scale":{"type":"log","domain":[62.2,142.4],"nice":false,"zero":false}}}},
{"data":{"values":[{"t":"2024-01-23T21:50Z","t2":"2024-01-31T10:36Z","p":69.22}]},"mark":{"type":"rule","stroke":"#22c47d","strokeWidth":2,"strokeDash":[11,11]},"encoding":{"x2":{"field":"t2"},"y":{"field":"p","type":"quantitative","title":null,"axis":null,"scale":{"type":"log","domain":[62.2,142.4],"nice":false,"zero":false}}}},
{"data":{"name":"ema_purple"},"mark":{"type":"line","stroke":"#9c2fac","strokeWidth":2.6,"interpolate":"catmull-rom"},"encoding":{"y":{"field":"p","type":"quantitative","title":null,"axis":null,"scale":{"type":"log","domain":[62.2,142.4],"nice":false,"zero":false}}}},
{"data":{"name":"ema_blue"},"mark":{"type":"line","stroke":"#0f1bff","strokeWidth":2.8,"interpolate":"catmull-rom"},"encoding":{"y":{"field":"p","type":"quantitative","title":null,"axis":null,"scale":{"type":"log","domain":[62.2,142.4],"nice":false,"zero":false}}}},
{"data":{"name":"ema_magenta"},"mark":{"type":"line","stroke":"#f724e0","strokeWidth":2.6,"interpolate":"catmull-rom"},"encoding":{"y":{"field":"p","type":"quantitative","title":null,"axis":null,"scale":{"type":"log","domain":[62.2,142.4],"nice":false,"zero":false}}}},
{"data":{"name":"ema_cyan"},"mark":{"type":"line","stroke":"#b2ebf2","strokeWidth":8,"interpolate":"catmull-rom"},"encoding":{"y":{"field":"p","type":"quantitative","title":null,"axis":null,"scale":{"type":"log","domain":[62.2,142.4],"nice":false,"zero":false}}}},
{"data":{"name":"ema_step"},"mark":{"type":"line","stroke":"#1fbf45","strokeWidth":2.6,"interpolate":"step"},"encoding":{"y":{"field":"p","type":"quantitative","title":null,"axis":null,"scale":{"type":"log","domain":[62.2,142.4],"nice":false,"zero":false}}}},
{"data":{"name":"candles"},"mark":{"type":"rule","strokeWidth":2},"encoding":{"y":{"field":"l","type":"quantitative","title":null,"axis":null,"scale":{"type":"log","domain":[62.2,142.4],"nice":false,"zero":false}},"y2":{"field":"h"},"stroke":{"condition":{"test":"datum.c>=datum.o","value":"#056656"},"value":"#000000"}}},
{"data":{"name":"candles"},"mark":{"type":"bar","width":6,"strokeWidth":2},"encoding":{"y":{"field":"o","type":"quantitative","title":null,"axis":null,"stack":null,"scale":{"type":"log","domain":[62.2,142.4],"nice":false,"zero":false}},"y2":{"field":"c"},"fill":{"condition":{"test":"datum.c>=datum.o","value":"#16dc0a"},"value":"#fad9f5"},"stroke":{"condition":{"test":"datum.c>=datum.o","value":"#056656"},"value":"#ff0000"}}},
{"data":{"values":[{"t":"2023-12-23T23:45Z","p":127.43},{"t":"2024-01-21T12:10Z","p":97.61}]},"mark":{"type":"line","stroke":"#0d1f24","strokeWidth":4.5,"strokeCap":"round"},"encoding":{"y":{"field":"p","type":"quantitative","title":null,"axis":null,"scale":{"type":"log","domain":[62.2,142.4],"nice":false,"zero":false}}}},
{"data":{"values":[{"t":"2023-12-22T16:02Z","p":126.15},{"t":"2024-01-22T15:50Z","p":94.2}]},"mark":{"type":"line","stroke":"#131722","strokeWidth":2,"strokeDash":[12,11]},"encoding":{"y":{"field":"p","type":"quantitative","title":null,"axis":null,"scale":{"type":"log","domain":[62.2,142.4],"nice":false,"zero":false}}}},
{"data":{"values":[{"t":"2023-12-25T12:00Z","p":128.45},{"t":"2024-01-02T04:00Z","p":118.9},{"t":"2024-01-11T08:24Z","p":108.77},{"t":"2024-01-14T12:00Z","p":105.58}]},"mark":{"type":"point","shape":"triangle-down","filled":true,"size":1550,"fill":"#e95b73","opacity":1,"stroke":null},"encoding":{"y":{"field":"p","type":"quantitative","title":null,"axis":null,"scale":{"type":"log","domain":[62.2,142.4],"nice":false,"zero":false}}}},
{"data":{"values":[{"t":"2024-01-15T07:55Z","p":101.71,"g":"shaft","k":0},{"t":"2024-01-20T08:01Z","p":73.88,"g":"shaft","k":1},{"t":"2024-01-19T22:05Z","p":74.21,"g":"head","k":0},{"t":"2024-01-20T08:01Z","p":73.88,"g":"head","k":1},{"t":"2024-01-20T10:57Z","p":75.0,"g":"head","k":2}]},"mark":{"type":"line","stroke":"#f23645","strokeWidth":3.6,"strokeCap":"round","strokeJoin":"miter"},"encoding":{"detail":{"field":"g"},"order":{"field":"k"},"y":{"field":"p","type":"quantitative","title":null,"axis":null,"scale":{"type":"log","domain":[62.2,142.4],"nice":false,"zero":false}}}},
{"data":{"values":[{"t":"2023-12-17T10:15Z","p":103.51,"g":"shaft","k":0},{"t":"2023-12-18T19:55Z","p":104.79,"g":"shaft","k":1},{"t":"2023-12-18T15:13Z","p":105.2,"g":"head","k":0},{"t":"2023-12-18T19:55Z","p":104.79,"g":"head","k":1},{"t":"2023-12-18T17:00Z","p":104.09,"g":"head","k":2}]},"mark":{"type":"line","stroke":"#1fbf45","strokeWidth":2.4},"encoding":{"detail":{"field":"g"},"order":{"field":"k"},"y":{"field":"p","type":"quantitative","title":null,"axis":null,"scale":{"type":"log","domain":[62.2,142.4],"nice":false,"zero":false}}}},
{"data":{"values":[{"t":"2024-01-15T16:52Z","t2":"2024-01-20T15:26Z","p":117.35,"p2":110.81}]},"mark":{"type":"rect","fill":"#ffffff","stroke":"#f23645","strokeWidth":3,"cornerRadius":20},"encoding":{"x2":{"field":"t2"},"y":{"field":"p","type":"quantitative","title":null,"axis":null,"scale":{"type":"log","domain":[62.2,142.4],"nice":false,"zero":false}},"y2":{"field":"p2"}}},
{"data":{"values":[{"t":"2024-01-15T16:52Z","p":111.89},{"t":"2024-01-15T22:44Z","p":110.81}]},"mark":{"type":"line","stroke":"#ffffff","strokeWidth":8},"encoding":{"y":{"field":"p","type":"quantitative","title":null,"axis":null,"scale":{"type":"log","domain":[62.2,142.4],"nice":false,"zero":false}}}},
{"data":{"values":[{"t":"2024-01-15T16:52Z","p":111.89,"k":0},{"t":"2024-01-14T19:41Z","p":104.07,"k":1},{"t":"2024-01-15T22:44Z","p":110.81,"k":2}]},"mark":{"type":"line","stroke":"#f23645","strokeWidth":3,"strokeJoin":"miter"},"encoding":{"order":{"field":"k"},"y":{"field":"p","type":"quantitative","title":null,"axis":null,"scale":{"type":"log","domain":[62.2,142.4],"nice":false,"zero":false}}}},
{"data":{"values":[{"t":"2024-01-16T00:30Z","p":115.01,"s":"New lower high"},{"t":"2024-01-16T00:30Z","p":113.10,"s":"Good short entry..."}]},"mark":{"type":"text","align":"left","baseline":"middle","font":"Liberation Sans","fontWeight":"bold","fontSize":33,"fill":"#f23645"},"encoding":{"text":{"field":"s"},"y":{"field":"p","type":"quantitative","title":null,"axis":null,"scale":{"type":"log","domain":[62.2,142.4],"nice":false,"zero":false}}}},
{"data":{"values":[{"t":"2024-01-31T04:00Z","p":83.39,"s":"0.382 (82.53)"}]},"mark":{"type":"text","align":"right","baseline":"middle","fontSize":27,"fill":"#c4c4bc"},"encoding":{"text":{"field":"s"},"y":{"field":"p","type":"quantitative","title":null,"axis":null,"scale":{"type":"log","domain":[62.2,142.4],"nice":false,"zero":false}}}},
{"data":{"values":[{"t":"2024-01-31T04:00Z","p":69.89,"s":"0.5 (69.22)"}]},"mark":{"type":"text","align":"right","baseline":"middle","fontSize":27,"fill":"#26c281"},"encoding":{"text":{"field":"s"},"y":{"field":"p","type":"quantitative","title":null,"axis":null,"scale":{"type":"log","domain":[62.2,142.4],"nice":false,"zero":false}}}},
{"data":{"values":[{"t":"2024-01-31T10:24Z","p":142.4,"p2":60.56}]},"mark":{"type":"rule","stroke":"#b2b5be","strokeWidth":3},"encoding":{"y":{"field":"p","type":"quantitative","title":null,"axis":null,"scale":{"type":"log","domain":[62.2,142.4],"nice":false,"zero":false}},"y2":{"field":"p2"}}},
{"data":{"values":[{"t":"2023-12-17T10:00Z","t2":"2024-02-02T00:13Z","p":62.2}]},"mark":{"type":"rule","stroke":"#b2b5be","strokeWidth":3},"encoding":{"x2":{"field":"t2"},"y":{"field":"p","type":"quantitative","title":null,"axis":null,"scale":{"type":"log","domain":[62.2,142.4],"nice":false,"zero":false}}}},
{"data":{"name":"tags"},"mark":{"type":"rect","cornerRadius":3},"encoding":{"x2":{"field":"t2"},"y":{"field":"p","type":"quantitative","title":null,"axis":null,"scale":{"type":"log","domain":[62.2,142.4],"nice":false,"zero":false}},"y2":{"field":"p2"},"fill":{"field":"tag","type":"nominal","legend":null,"scale":{"domain":["hl","last","blue","magenta","green","cyan","purple"],"range":["#e1ecfb","#f7d9fb","#0c12ff","#f91fda","#15c43d","#b2ebf2","#9c27b0"]}}}},
{"data":{"name":"axisTags"},"mark":{"type":"text","align":"left","baseline":"middle","fontSize":22},"encoding":{"text":{"field":"s"},"y":{"field":"p","type":"quantitative","title":null,"axis":null,"scale":{"type":"log","domain":[62.2,142.4],"nice":false,"zero":false}},"fill":{"field":"k","type":"nominal","legend":null,"scale":{"domain":["dark","grey","white"],"range":["#131722","#5d5a62","#ffffff"]}}}},
{"data":{"name":"sideTags"},"mark":{"type":"text","align":"center","baseline":"middle","fontSize":20,"fill":"#131722"},"encoding":{"text":{"field":"s"},"y":{"field":"p","type":"quantitative","title":null,"axis":null,"scale":{"type":"log","domain":[62.2,142.4],"nice":false,"zero":false}}}},
{"data":{"name":"header"},"mark":{"type":"text","align":"left","baseline":"middle","fontSize":25},"encoding":{"text":{"field":"s"},"y":{"field":"p","type":"quantitative","title":null,"axis":null,"scale":{"type":"log","domain":[62.2,142.4],"nice":false,"zero":false}},"fill":{"field":"k","type":"nominal","legend":null,"scale":{"domain":["dark","red"],"range":["#131722","#ff0000"]}}}},
{"data":{"values":[{"t":"2023-12-17T15:50Z","p":140.08,"s":"SOL / TetherUS, 4h, BINANCE"}]},"mark":{"type":"text","align":"left","baseline":"middle","fontSize":23.5,"fill":"#131722"},"encoding":{"text":{"field":"s"},"y":{"field":"p","type":"quantitative","title":null,"axis":null,"scale":{"type":"log","domain":[62.2,142.4],"nice":false,"zero":false}}}},
{"data":{"values":[{"t":"2023-12-28T13:30Z","p":140.08,"s":"−1.07 (−1.08%)"}]},"mark":{"type":"text","align":"left","baseline":"middle","fontSize":24,"fill":"#ff0000"},"encoding":{"text":{"field":"s"},"y":{"field":"p","type":"quantitative","title":null,"axis":null,"scale":{"type":"log","domain":[62.2,142.4],"nice":false,"zero":false}}}},
{"data":{"values":[{"t":"2023-12-17T10:22Z","p":144.02,"s":"AlanSantana published on TradingView.com, Jan 14, 2024 15:16 UTC-4"}]},"mark":{"type":"text","align":"left","baseline":"middle","fontSize":25,"fill":"#131722"},"encoding":{"text":{"field":"s"},"y":{"field":"p","type":"quantitative","title":null,"axis":null,"scale":{"type":"log","domain":[62.2,142.4],"nice":false,"zero":false}}}},
{"data":{"values":[{"t":"2023-12-18T02:58Z","p":59.38,"s":"TradingView"}]},"mark":{"type":"text","align":"left","baseline":"middle","fontSize":27,"fill":"#131722"},"encoding":{"text":{"field":"s"},"y":{"field":"p","type":"quantitative","title":null,"axis":null,"scale":{"type":"log","domain":[62.2,142.4],"nice":false,"zero":false}}}},
{"data":{"values":[{"t":"2023-12-17T10:00Z","t2":"2023-12-17T16:22Z","p":59.75,"p2":59.55},{"t":"2023-12-17T12:29Z","t2":"2023-12-17T16:22Z","p":59.75,"p2":59.14}]},"mark":{"type":"rect","fill":"#131722"},"encoding":{"x2":{"field":"t2"},"y":{"field":"p","type":"quantitative","title":null,"axis":null,"scale":{"type":"log","domain":[62.2,142.4],"nice":false,"zero":false}},"y2":{"field":"p2"}}},
{"data":{"values":[{"t":"2023-12-17T17:57Z","p":59.65}]},"mark":{"type":"point","shape":"circle","filled":true,"size":50,"fill":"#131722","opacity":1},"encoding":{"y":{"field":"p","type":"quantitative","title":null,"axis":null,"scale":{"type":"log","domain":[62.2,142.4],"nice":false,"zero":false}}}},
{"data":{"values":[{"t":"2023-12-17T21:40Z","p":59.7},{"t":"2023-12-17T19:34Z","p":59.2}]},"mark":{"type":"line","stroke":"#131722","strokeWidth":7},"encoding":{"y":{"field":"p","type":"quantitative","title":null,"axis":null,"scale":{"type":"log","domain":[62.2,142.4],"nice":false,"zero":false}}}}
]},
{"data":{"name":"hgrid"},"mark":{"type":"point","opacity":0},"encoding":{"y":{"field":"p","type":"quantitative","title":null,"scale":{"type":"log","domain":[62.2,142.4],"nice":false,"zero":false},"axis":{"orient":"right","zindex":1,"values":[140,135,130,125,120,116,112,108,104,100,89,86,83,80,77,74.5,72.5,70.5,68.5,64.9,63.2],"format":".2f","grid":false,"domain":false,"ticks":false,"labelPadding":14,"labelFontSize":22,"labelFont":"Liberation Sans","labelColor":"#131722","labelOverlap":false,"labelFlush":false,"labelBaseline":"middle","title":null}}}},
{"data":{"name":"vgrid"},"mark":{"type":"point","opacity":0},"encoding":{"y":{"datum":100,"type":"quantitative","scale":{"type":"log","domain":[62.2,142.4],"nice":false,"zero":false},"axis":null},"x":{"field":"t","type":"temporal","title":null,"scale":{"type":"utc","padding":0,"domain":[{"year":2023,"month":12,"date":17,"hours":10,"utc":true},{"year":2024,"month":1,"date":31,"hours":10,"minutes":36,"utc":true}]},"axis":{"orient":"bottom","zindex":1,"grid":false,"domain":false,"ticks":false,"labelPadding":26,"labelFontSize":22,"labelFont":"Liberation Sans","labelColor":"#131722","labelOverlap":false,"labelFlush":false,"labelBaseline":"middle","title":null,"values":[{"year":2023,"month":12,"date":18,"utc":true},{"year":2023,"month":12,"date":21,"utc":true},{"year":2023,"month":12,"date":25,"utc":true},{"year":2023,"month":12,"date":28,"utc":true},{"year":2024,"month":1,"date":1,"utc":true},{"year":2024,"month":1,"date":4,"utc":true},{"year":2024,"month":1,"date":8,"utc":true},{"year":2024,"month":1,"date":11,"utc":true},{"year":2024,"month":1,"date":15,"utc":true},{"year":2024,"month":1,"date":18,"utc":true},{"year":2024,"month":1,"date":22,"utc":true},{"year":2024,"month":1,"date":25,"utc":true},{"year":2024,"month":1,"date":29,"utc":true}],"labelExpr":"utcdate(datum.value)==1 ? '2024' : '' + utcdate(datum.value)","labelFontWeight":{"condition":{"test":"utcdate(datum.value)==1","value":"bold"},"value":"normal"}}}}}
]}
